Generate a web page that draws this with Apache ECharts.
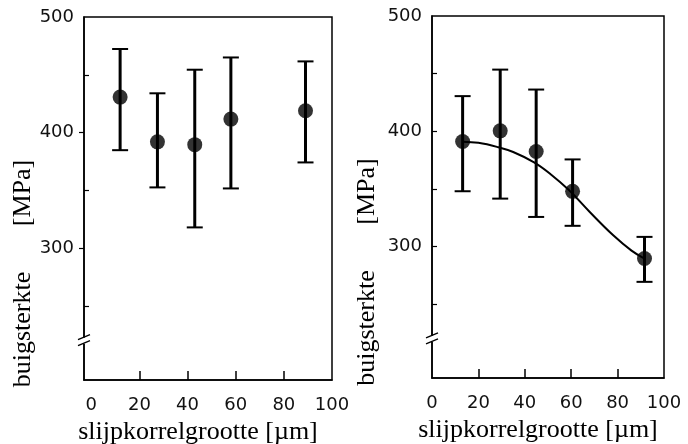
<!DOCTYPE html>
<html><head><meta charset="utf-8">
<script src="https://cdn.jsdelivr.net/npm/echarts@6/dist/echarts.min.js"></script>
<style>html,body{margin:0;padding:0;background:#fff}#c{width:688px;height:444px}</style>
</head><body><div id="c"></div>
<script>
// Left panel data
const leftX    = [12, 27.5, 43, 58, 89];
const leftMean = [430.7, 392, 389.6, 411.7, 418.9];
const leftHigh = [472.3, 434, 454.4, 465, 461.6];
const leftLow  = [384.8, 352.6, 318, 351.7, 374.2];
// Right panel data
const rightX    = [13.2, 29.4, 44.9, 60.6, 91.6];
const rightMean = [391.2, 400.4, 382.5, 347.9, 289.6];
const rightHigh = [430.5, 453.5, 436.2, 375.6, 308.4];
const rightLow  = [348, 341.6, 325.7, 318, 269.4];
// Fitted curve (right panel)
const curveX = [13.2, 20, 28, 35, 44, 51, 59, 68, 78, 86, 91.6];
const curveY = [391, 390, 386.5, 382, 373, 363, 349, 330, 310, 296.5, 289.6];
// Tick labels
const xTickLabels = [0, 20, 40, 60, 80, 100];
const xTicks = [20, 40, 60, 80];
const yTickLabels = [300, 400, 500];
const yMinorTicks = [250, 350, 450];
const xTitle = 'slijpkorrelgrootte [µm]';
const yTitle = 'buigsterkte       [MPa]';
const breakValue = 220;

const chart = echarts.init(document.getElementById('c'), null, {renderer: 'canvas'});
const labelFont = {fontFamily: 'DejaVu Sans', fontSize: 18, color: '#111'};
const titleFont = {fontFamily: 'Liberation Serif', fontSize: 26, color: '#000'};

function xAxis(grid, min, max) {
  return {
    type: 'value', gridIndex: grid, min: min, max: max,
    axisLine: {show: true, onZero: false, lineStyle: {color: '#000', width: 1.5}},
    axisTick: {show: true, inside: true, length: 9, customValues: xTicks, lineStyle: {color: '#000', width: 1.5}},
    axisLabel: Object.assign({show: true, margin: 16, customValues: xTickLabels, showMinLabel: true, showMaxLabel: true}, labelFont),
    splitLine: {show: false},
    name: xTitle, nameLocation: 'middle', nameGap: 29,
    nameTextStyle: Object.assign({padding: [0, 20, 0, 0]}, titleFont)
  };
}
function yAxis(grid, inside, gap) {
  return {
    type: 'value', gridIndex: grid, min: 186, max: 500,
    axisLine: {show: true, onZero: false, lineStyle: {color: '#000', width: 1.5}},
    axisTick: {show: true, inside: inside, length: 5, customValues: [300, 400], lineStyle: {color: '#000', width: 1.2}},
    axisLabel: Object.assign({show: true, margin: 10, customValues: yTickLabels, showMaxLabel: true}, labelFont),
    splitLine: {show: false},
    name: yTitle, nameLocation: 'middle', nameGap: gap, nameRotate: 90,
    nameTextStyle: Object.assign({padding: [0, 150, 0, 0]}, titleFont)
  };
}
function yMinor(grid) {
  return {
    type: 'value', gridIndex: grid, min: 186, max: 500, position: 'left',
    axisLine: {show: false, onZero: false},
    axisTick: {show: true, inside: true, length: 5, customValues: yMinorTicks, lineStyle: {color: '#000', width: 1.2}},
    axisLabel: {show: false}, splitLine: {show: false}
  };
}
function errSeries(xi, yi, xs, lo, hi) {
  return {
    type: 'custom', xAxisIndex: xi, yAxisIndex: yi, z: 3,
    data: xs.map((x, i) => [x, lo[i], hi[i]]),
    renderItem: function (params, api) {
      const a = api.coord([api.value(0), api.value(1)]);
      const b = api.coord([api.value(0), api.value(2)]);
      const w = 8;
      const st = {stroke: '#000', lineWidth: 3};
      const cs = {stroke: '#000', lineWidth: 2};
      return {type: 'group', children: [
        {type: 'line', shape: {x1: a[0], y1: a[1], x2: b[0], y2: b[1]}, style: st},
        {type: 'line', shape: {x1: a[0] - w, y1: a[1], x2: a[0] + w, y2: a[1]}, style: cs},
        {type: 'line', shape: {x1: b[0] - w, y1: b[1], x2: b[0] + w, y2: b[1]}, style: cs}
      ]};
    }
  };
}
function pts(xs, ys, xi, yi) {
  return {type: 'scatter', xAxisIndex: xi, yAxisIndex: yi, z: 5, symbol: 'circle', symbolSize: 15,
    itemStyle: {color: '#000'}, data: xs.map((x, i) => [x, ys[i]])};
}

chart.setOption({
  animation: false,
  backgroundColor: '#fff',
  grid: [
    {left: 84, top: 17, width: 248, height: 363, outerBoundsMode: 'none', containLabel: false, show: true, borderColor: '#000', borderWidth: 1.5, backgroundColor: 'transparent'},
    {left: 432, top: 16, width: 232, height: 362, outerBoundsMode: 'none', containLabel: false, show: true, borderColor: '#000', borderWidth: 1.5, backgroundColor: 'transparent'}
  ],
  xAxis: [xAxis(0, -3, 100), xAxis(1, 0, 100)],
  yAxis: [yAxis(0, false, 48), yAxis(1, true, 52), yMinor(0), yMinor(1)],
  series: [
    errSeries(0, 0, leftX, leftLow, leftHigh),
    pts(leftX, leftMean, 0, 0),
    errSeries(1, 1, rightX, rightLow, rightHigh),
    {type: 'line', xAxisIndex: 1, yAxisIndex: 1, z: 4, smooth: 0.4, symbol: 'none',
      lineStyle: {color: '#000', width: 2}, data: curveX.map((x, i) => [x, curveY[i]])},
    pts(rightX, rightMean, 1, 1)
  ]
});

// axis break marks
const gfx = [];
[[0, -3], [1, 0]].forEach(function (g) {
  const p = chart.convertToPixel({xAxisIndex: g[0], yAxisIndex: g[0]}, [g[1], breakValue]);
  const x = p[0], y = p[1];
  gfx.push({type: 'rect', shape: {x: x - 3, y: y - 3, width: 6, height: 6}, style: {fill: '#fff'}, z: 100});
  gfx.push({type: 'line', shape: {x1: x - 6, y1: y - 1, x2: x + 6, y2: y - 6}, style: {stroke: '#000', lineWidth: 1.3}, z: 101});
  gfx.push({type: 'line', shape: {x1: x - 6, y1: y + 5, x2: x + 6, y2: y}, style: {stroke: '#000', lineWidth: 1.3}, z: 101});
});
chart.setOption({graphic: gfx});
</script></body></html>
